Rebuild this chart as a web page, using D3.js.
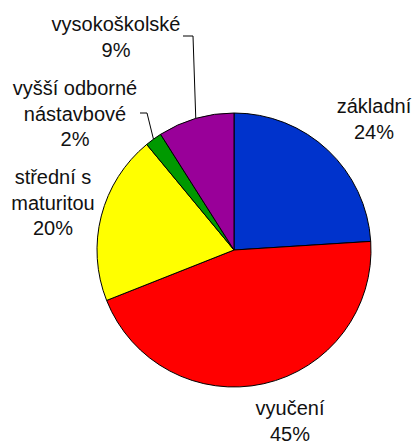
<!DOCTYPE html>
<html>
<head>
<meta charset="utf-8">
<script src="https://cdn.jsdelivr.net/npm/d3@7"></script>
<style>
  body { margin: 0; background: #fff; }
  svg { display: block; }
  text { font-family: "Liberation Sans", Arial, sans-serif; font-size: 20px; fill: #111; }
</style>
</head>
<body>
<div id="chart"></div>
<script>
// data, clockwise from 12 o'clock
var categories = ["základní", "vyučení", "střední s maturitou", "vyšší odborné nástavbové", "vysokoškolské"];
var values = [24, 45, 20, 2, 9];
var labelLines = [["základní"], ["vyučení"], ["střední s", "maturitou"], ["vyšší odborné", "nástavbové"], ["vysokoškolské"]];
var colors = ["#0033cc", "#ff0000", "#ffff00", "#009900", "#990099"];

// label layout (center x, first baseline y), and which ones get a leader line
var labelPos = [[374, 113], [290, 415], [53, 184], [75, 95], [116, 31]];
var leader = [null, null, null, {x: 140, y: 113}, {x: 183, y: 36}];

var width = 414, height = 441,
    cx = 234, cy = 250, radius = 137,
    lineH = 25.5;

var svg = d3.select("#chart").append("svg")
    .attr("width", width)
    .attr("height", height);

var pie = d3.pie().sort(null).value(function (d) { return d; });
var arcs = pie(values);

var arc = d3.arc().innerRadius(0).outerRadius(radius);
var edge = d3.arc().innerRadius(radius).outerRadius(radius);

var g = svg.append("g").attr("transform", "translate(" + cx + "," + cy + ")");

g.selectAll("path")
    .data(arcs)
    .enter().append("path")
    .attr("d", arc)
    .attr("fill", function (d, i) { return colors[i]; })
    .attr("stroke", "#000")
    .attr("stroke-width", 1)
    .attr("stroke-linejoin", "round");

// leader lines for the thin slices
arcs.forEach(function (d, i) {
    if (!leader[i]) return;
    var p = edge.centroid(d);
    var sx = leader[i].x, sy = leader[i].y;
    var kx = sx + (i === 3 ? 7 : 10);
    svg.append("polyline")
        .attr("points", [[sx, sy], [kx, sy], [cx + p[0], cy + p[1]]].map(function (q) { return q.join(","); }).join(" "))
        .attr("fill", "none")
        .attr("stroke", "#000")
        .attr("stroke-width", 1);
});

// labels
var total = d3.sum(values);
labelLines.forEach(function (lines, i) {
    var t = svg.append("text")
        .attr("text-anchor", "middle")
        .attr("x", labelPos[i][0])
        .attr("y", labelPos[i][1]);
    lines.concat([Math.round(values[i] / total * 100) + "%"]).forEach(function (s, j) {
        t.append("tspan")
            .attr("x", labelPos[i][0])
            .attr("dy", j === 0 ? 0 : lineH)
            .text(s);
    });
});
</script>
</body>
</html>
